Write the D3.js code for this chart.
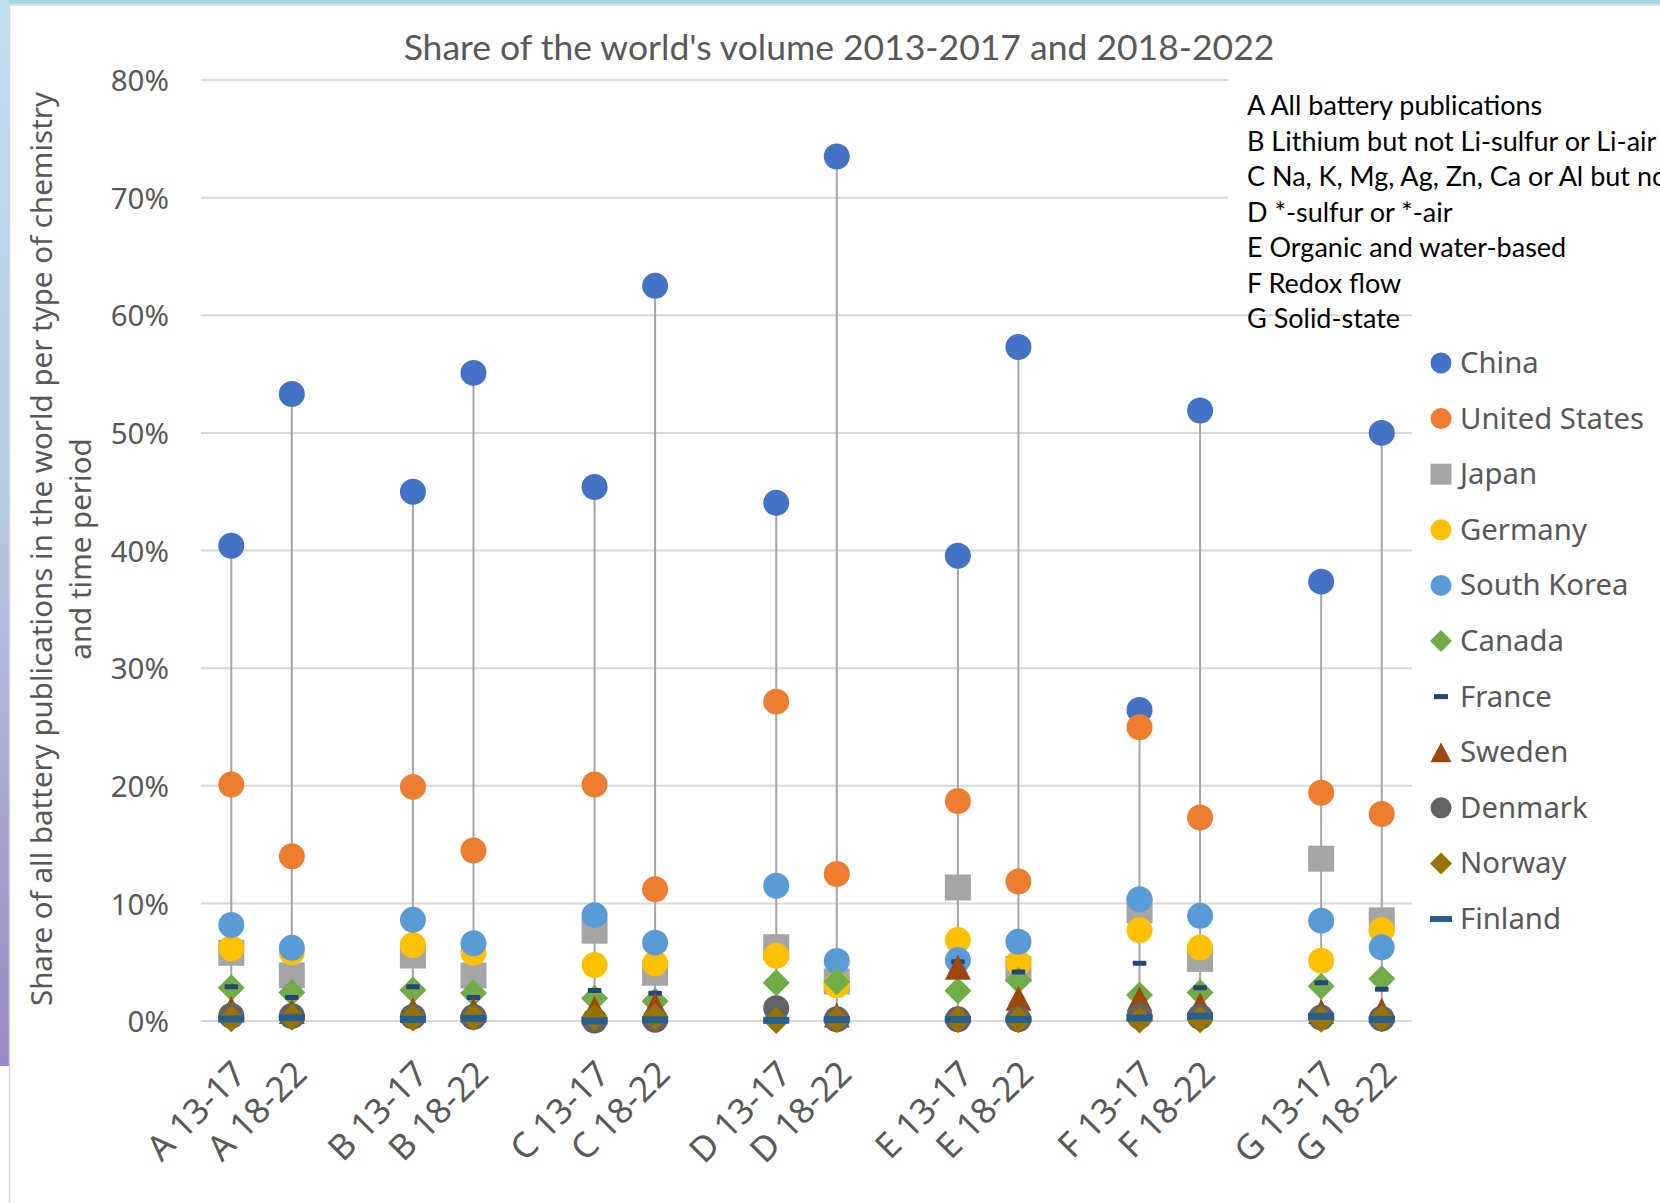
<!DOCTYPE html>
<html>
<head>
<meta charset="utf-8">
<script src="https://cdn.jsdelivr.net/npm/d3@7"></script>
<style>
  body { margin: 0; background: #fff; }
  svg { display: block; }
</style>
</head>
<body>
<svg id="chart" width="1660" height="1203"></svg>
<script>
// Categories: chemistry type (A–G) and five-year period
const categories = [
  "A 13-17", "A 18-22", "B 13-17", "B 18-22", "C 13-17", "C 18-22",
  "D 13-17", "D 18-22", "E 13-17", "E 18-22", "F 13-17", "F 18-22",
  "G 13-17", "G 18-22"
];

// Share of the world's volume (%), one value per category
const china       = [40.4, 53.3, 45.0, 55.1, 45.4, 62.5, 44.05, 73.5, 39.55, 57.3, 26.45, 51.9, 37.35, 50.0];
const unitedStates= [20.1, 14.0, 19.9, 14.5, 20.1, 11.2, 27.15, 12.5, 18.7, 11.85, 24.97, 17.3, 19.4, 17.6];
const japan       = [5.8, 3.88, 5.57, 3.87, 7.68, 4.1, 6.27, 3.36, 11.35, 4.43, 9.4, 5.28, 13.8, 8.56];
const germany     = [6.18, 5.85, 6.46, 5.8, 4.76, 4.9, 5.55, 3.04, 6.88, 4.96, 7.72, 6.24, 5.13, 7.72];
const southKorea  = [8.16, 6.22, 8.6, 6.6, 9.0, 6.66, 11.5, 5.1, 5.18, 6.74, 10.35, 8.94, 8.53, 6.26];
const canada      = [2.83, 2.42, 2.64, 2.37, 1.93, 1.68, 3.26, 3.33, 2.58, 3.45, 2.2, 2.42, 2.95, 3.6];
const france      = [2.92, 2.0, 2.92, 2.0, 2.6, 2.35, 0.5, 0.8, 5.04, 4.17, 4.92, 2.83, 3.26, 2.7];
const sweden      = [1.05, 0.8, 0.95, 0.9, 1.08, 1.36, 1.05, 0.5, 4.58, 1.93, 1.87, 1.35, 0.8, 0.92];
const denmark     = [0.45, 0.43, 0.37, 0.34, 0.04, 0.1, 1.08, 0.14, 0.14, 0.14, 0.4, 0.36, 0.29, 0.2];
const norway      = [0.2, 0.31, 0.25, 0.3, 0.3, 0.35, 0.05, 0.1, 0.1, 0.1, 0.09, 0.1, 0.14, 0.2];
const finland     = [0.17, 0.28, 0.14, 0.23, 0.0, 0.1, 0.06, 0.12, 0.14, 0.14, 0.26, 0.42, 0.4, 0.14];

const countryNames = ["China", "United States", "Japan", "Germany", "South Korea",
  "Canada", "France", "Sweden", "Denmark", "Norway", "Finland"];
const countryValues = [china, unitedStates, japan, germany, southKorea,
  canada, france, sweden, denmark, norway, finland];

const yTicks = [0, 10, 20, 30, 40, 50, 60, 70, 80];

const chemistryNotes = [
  "A All battery publications",
  "B Lithium but not Li-sulfur or Li-air",
  "C Na, K, Mg, Ag, Zn, Ca or Al but not Li",
  "D *-sulfur or *-air",
  "E Organic and water-based",
  "F Redox flow",
  "G Solid-state"
];

const chartTitle = "Share of the world's volume 2013-2017 and 2018-2022";
const yTitleLines = ["Share of all battery publications in the world per type of chemistry",
  "and time period"];

// Marker styling per country (Office palette)
const styles = [
  { color: "#4472C4", shape: "circle" },
  { color: "#ED7D31", shape: "circle" },
  { color: "#A5A5A5", shape: "square" },
  { color: "#FFC000", shape: "circle" },
  { color: "#5B9BD5", shape: "circle" },
  { color: "#70AD47", shape: "diamond" },
  { color: "#264478", shape: "dashSmall" },
  { color: "#9E480E", shape: "triangle" },
  { color: "#636363", shape: "circle" },
  { color: "#997300", shape: "diamond" },
  { color: "#255E91", shape: "dash" }
];

const svg = d3.select("#chart");
const W = 1660, H = 1203;
const uiFont = "'Noto Sans', sans-serif";

// Frame decoration: coloured strips along the top and left edge
const defs = svg.append("defs");
const grad = defs.append("linearGradient").attr("id", "edgeGrad")
  .attr("x1", 0).attr("y1", 0).attr("x2", 0).attr("y2", 1);
grad.append("stop").attr("offset", "0%").attr("stop-color", "#bfe2ee");
grad.append("stop").attr("offset", "45%").attr("stop-color", "#b7cbe6");
grad.append("stop").attr("offset", "100%").attr("stop-color", "#9b88c4");
svg.append("rect").attr("x", 0).attr("y", 0).attr("width", W).attr("height", 4).attr("fill", "#a3d6e2");
svg.append("rect").attr("x", 0).attr("y", 0).attr("width", 9).attr("height", 1066).attr("fill", "url(#edgeGrad)");
svg.append("line").attr("x1", 9.5).attr("x2", 9.5).attr("y1", 5).attr("y2", H).attr("stroke", "#d6d6d6").attr("stroke-width", 1.5);
svg.append("line").attr("x1", 9).attr("x2", W).attr("y1", 5).attr("y2", 5).attr("stroke", "#d6d6d6").attr("stroke-width", 1.5);

// Slots: a blank slot separates each chemistry pair
const slots = [];
categories.forEach((c, i) => {
  if (i > 0 && i % 2 === 0) slots.push("gap" + i);
  slots.push(c);
});

const plot = { left: 201, right: 1412, top: 80, bottom: 1021 };
const x = d3.scaleBand().domain(slots).range([plot.left, plot.right]).padding(0);
const y = d3.scaleLinear().domain([0, 80]).range([plot.bottom, plot.top]);
const cx = c => x(c) + x.bandwidth() / 2;

// Gridlines
svg.append("g").selectAll("line").data(yTicks).join("line")
  .attr("x1", plot.left).attr("x2", plot.right)
  .attr("y1", d => y(d)).attr("y2", d => y(d))
  .attr("stroke", "#d9d9d9").attr("stroke-width", 2);

// Y axis labels
const yAxis = svg.append("g").attr("transform", `translate(${plot.left},0)`)
  .call(d3.axisLeft(y).tickValues(yTicks).tickFormat(d => d + "%").tickSize(0).tickPadding(32));
yAxis.select(".domain").remove();
yAxis.selectAll("text").attr("font-family", uiFont).attr("font-size", 29.5)
  .attr("fill", "#595959").attr("dy", "0.36em");

// X axis labels, rotated
const xAxis = svg.append("g").attr("transform", `translate(0,${plot.bottom})`)
  .call(d3.axisBottom(x).tickValues(categories).tickSize(0).tickPadding(0));
xAxis.select(".domain").remove();
xAxis.selectAll("text")
  .attr("font-family", uiFont).attr("font-size", 35).attr("fill", "#595959")
  .attr("text-anchor", "end").attr("dy", 0).attr("y", 0)
  .attr("transform", "translate(17,55) rotate(-45)");

// High-low lines per category
const ranges = categories.map((c, i) => {
  const vals = countryValues.map(s => s[i]);
  return { c, hi: d3.max(vals), lo: d3.min(vals) };
});
svg.append("g").selectAll("line").data(ranges).join("line")
  .attr("x1", d => cx(d.c)).attr("x2", d => cx(d.c))
  .attr("y1", d => y(d.hi)).attr("y2", d => y(d.lo))
  .attr("stroke", "#a5a5a5").attr("stroke-width", 2);

// Marker drawing
function drawMarker(g, shape, color, px, py, s) {
  // s: nominal marker size in px
  if (shape === "circle") {
    g.append("circle").attr("cx", px).attr("cy", py).attr("r", s / 2).attr("fill", color);
  } else if (shape === "square") {
    g.append("rect").attr("x", px - s / 2).attr("y", py - s / 2).attr("width", s).attr("height", s).attr("fill", color);
  } else if (shape === "diamond") {
    const h = s / 2 + 0.5;
    g.append("path").attr("d", `M${px},${py - h}L${px + h},${py}L${px},${py + h}L${px - h},${py}Z`).attr("fill", color);
  } else if (shape === "triangle") {
    const hw = s / 2, hh = s / 2 - 0.5;
    g.append("path").attr("d", `M${px},${py - hh}L${px + hw},${py + hh}L${px - hw},${py + hh}Z`).attr("fill", color);
  } else if (shape === "dashSmall") {
    g.append("rect").attr("x", px - s * 0.26).attr("y", py - 2.5).attr("width", s * 0.52).attr("height", 5).attr("rx", 1).attr("fill", color);
  } else if (shape === "dash") {
    g.append("rect").attr("x", px - s / 2).attr("y", py - 3.5).attr("width", s).attr("height", 7).attr("fill", color);
  }
}

const marks = svg.append("g");
countryValues.forEach((series, si) => {
  const st = styles[si];
  const g = marks.append("g").attr("class", "series");
  series.forEach((v, i) => {
    drawMarker(g, st.shape, st.color, cx(categories[i]), y(v), 26);
  });
});

// Title
svg.append("text").attr("x", 839).attr("y", 60).attr("text-anchor", "middle")
  .attr("font-family", "Lato, sans-serif").attr("font-size", 35.5).attr("fill", "#595959")
  .text(chartTitle);

// Y axis title (two lines, rotated)
const yt = svg.append("text").attr("transform", "translate(0,549) rotate(-90)")
  .attr("text-anchor", "middle").attr("font-family", uiFont)
  .attr("font-size", 29.5).attr("fill", "#595959");
yt.append("tspan").attr("x", 0).attr("y", 52).text(yTitleLines[0]);
yt.append("tspan").attr("x", 0).attr("y", 91).text(yTitleLines[1]);

// Chemistry key text box
svg.append("rect").attr("x", 1228).attr("y", 70).attr("width", W - 1228).attr("height", 230).attr("fill", "#fff");
svg.append("g").selectAll("text").data(chemistryNotes).join("text")
  .attr("x", 1247).attr("y", (d, i) => 115 + i * 35.5)
  .attr("font-family", "Lato, sans-serif").attr("font-size", 27).attr("fill", "#000")
  .text(d => d);

// Country legend
const legend = svg.append("g");
countryNames.forEach((name, i) => {
  const ly = 363 + i * 55.6;
  const st = styles[i];
  const g = legend.append("g");
  if (st.shape === "dashSmall") {
    g.append("rect").attr("x", 1441 - 7).attr("y", ly - 2.5).attr("width", 14).attr("height", 5).attr("fill", st.color);
  } else if (st.shape === "dash") {
    g.append("rect").attr("x", 1441 - 11).attr("y", ly - 3).attr("width", 22).attr("height", 6).attr("fill", st.color);
  } else {
    drawMarker(g, st.shape, st.color, 1441, ly, 21);
  }
  g.append("text").attr("x", 1460).attr("y", ly + 10)
    .attr("font-family", uiFont).attr("font-size", 29.3).attr("fill", "#595959")
    .text(name);
});
</script>
</body>
</html>
